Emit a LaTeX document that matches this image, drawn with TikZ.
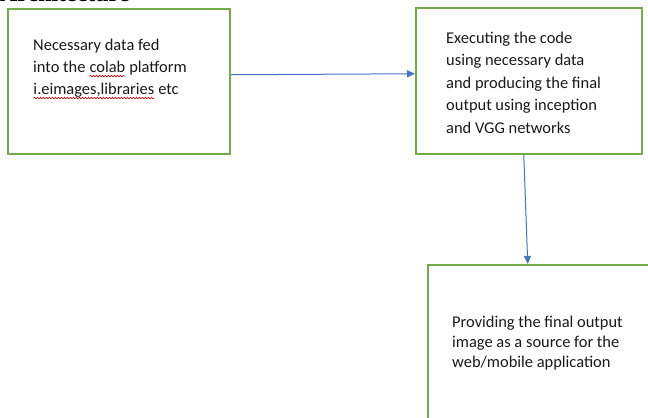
\documentclass[tikz,border=0pt]{standalone}
\usepackage{fontspec}
\setmainfont{Carlito}
\newfontfamily\headfont{Liberation Serif}
\usetikzlibrary{arrows.meta,decorations.pathmorphing}
\definecolor{boxgreen}{RGB}{112,173,71}
\definecolor{arrowblue}{RGB}{68,114,196}
\definecolor{textgray}{RGB}{25,25,25}
\newcommand\spellmark[1]{\tikz[baseline=(sm.base)]{\node[inner sep=0pt,outer sep=0pt] (sm) {#1};\draw[red!85!black,line width=0.6bp,decorate,decoration={snake,amplitude=0.8bp,segment length=3bp}] ([yshift=-4bp]sm.base west) -- ([yshift=-4bp]sm.base east);}}
\begin{document}
\begin{tikzpicture}[x=1bp,y=-1bp,
  box/.style={draw=boxgreen,line width=1.5bp,anchor=north west,inner sep=0pt},
  conn/.style={draw=arrowblue,line width=1bp,-{Triangle[length=8bp,width=7bp]}},
  txt/.style={anchor=base west,align=left,inner sep=0pt,text=textgray}]
\useasboundingbox (0,0) rectangle (648,417);
\clip (0,0) rectangle (648,417);
\node[anchor=base west,inner sep=0pt,font=\headfont\bfseries\fontsize{24}{28}\selectfont] (head) at (0,1) {Architecture};
\node[box,minimum width=222bp,minimum height=145bp] (b1) at (7,8) {};
\node[box,minimum width=226bp,minimum height=146bp] (b2) at (415,7) {};
\node[box,minimum width=233bp,minimum height=180bp] (b3) at (427,264) {};
\node[txt,font=\fontsize{16.5}{22}\selectfont] (t1) at (33,94) {Necessary data fed\\into the \spellmark{colab} platform\\\spellmark{i.eimages,libraries} etc};
\node[txt,font=\fontsize{16.5}{22.5}\selectfont] (t2) at (446,133) {Executing the code\\using necessary data\\and producing the final\\output using inception\\and VGG networks};
\node[txt,font=\fontsize{16.5}{20}\selectfont] (t3) at (452,367) {Providing the final output\\image as a source for the\\web/mobile application};
\draw[conn] ([yshift=6.5bp]b1.east) -- ([yshift=7bp]b2.west);
\draw[conn] ([xshift=-5bp]b2.south) -- ([xshift=-16.5bp]b3.north);
\end{tikzpicture}
\end{document}
